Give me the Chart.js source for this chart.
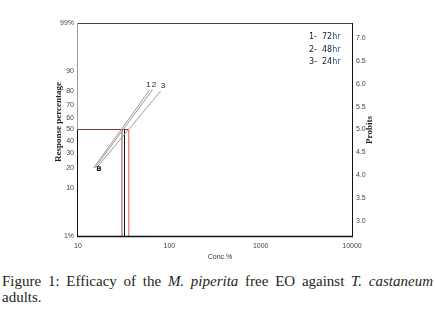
<!DOCTYPE html>
<html>
<head>
<meta charset="utf-8">
<script src="https://cdn.jsdelivr.net/npm/chart.js@4.4.1/dist/chart.umd.min.js"></script>
<style>
  body { margin: 0; background: #fff; width: 435px; height: 323px; overflow: hidden; position: relative; }
  #wrap { position: absolute; left: 0; top: 0; width: 435px; height: 265px; }
  #caption { position: absolute; left: 2px; top: 273px; width: 431px; font-family: "Liberation Serif", serif; font-size: 15px; line-height: 16px; color: #231f20; text-align: justify; }
</style>
</head>
<body>
<div id="wrap"><canvas id="probit_chart" width="435" height="265"></canvas></div>
<div id="caption">Figure 1: Efficacy of the <i>M. piperita</i> free EO against <i>T. castaneum</i> adults.</div>
<script>
// values
const line1Conc = [14.8, 60.7];
const line1Resp = [20.0, 80.5];
const line2Conc = [15.3, 65.5];
const line2Resp = [20.0, 80.8];
const line3Conc = [16.1, 80.2];
const line3Resp = [20.3, 79.9];
const lc50 = [30.3, 32.3, 36.0];
const lineNames = ['1', '2', '3'];

const legendNums = ['1-', '2-', '3-'];
const legendHours = ['72hr', '48hr', '24hr'];

const pctTicks = [1, 10, 20, 30, 40, 50, 60, 70, 80, 90, 99];
const pctLabels = ['1%', '10', '20', '30', '40', '50', '60', '70', '80', '90', '99%'];
const probitTicks = [3.0, 3.5, 4.0, 4.5, 5.0, 5.5, 6.0, 6.5, 7.0];
const concTicks = [10, 100, 1000, 10000];

// inverse normal (Acklam)
function invNorm(p) {
    const a = [-39.69683028665376, 220.9460984245205, -275.9285104469687, 138.3577518672690, -30.66479806614716, 2.506628277459239];
    const b = [-54.47609879822406, 161.5858368580409, -155.6989798598866, 66.80131188771972, -13.28068155288572];
    const c = [-0.007784894002430293, -0.3223964580411365, -2.400758277161838, -2.549732539343734, 4.374664141464968, 2.938163982698783];
    const d = [0.007784695709041462, 0.3224671290700398, 2.445134137142996, 3.754408661907416];
    const pl = 0.02425;
    let q, r;
    if (p < pl) {
        q = Math.sqrt(-2 * Math.log(p));
        return (((((c[0]*q+c[1])*q+c[2])*q+c[3])*q+c[4])*q+c[5]) / ((((d[0]*q+d[1])*q+d[2])*q+d[3])*q+1);
    }
    if (p <= 1 - pl) {
        q = p - 0.5; r = q * q;
        return (((((a[0]*r+a[1])*r+a[2])*r+a[3])*r+a[4])*r+a[5])*q / (((((b[0]*r+b[1])*r+b[2])*r+b[3])*r+b[4])*r+1);
    }
    q = Math.sqrt(-2 * Math.log(1 - p));
    return -(((((c[0]*q+c[1])*q+c[2])*q+c[3])*q+c[4])*q+c[5]) / ((((d[0]*q+d[1])*q+d[2])*q+d[3])*q+1);
}
function probit(pct) { return 5 + invNorm(pct / 100); }

const yMin = probit(1);
const yMax = probit(99);

function pts(xs, ys) { return xs.map((x, i) => ({x: x, y: probit(ys[i])})); }

const lineColor = '#9a9a9a';
const lcColors = ['#9b4b4b', '#111111', '#e05a5a'];

var datasets = [
    {data: pts(line1Conc, line1Resp), borderColor: lineColor, borderWidth: 1, pointRadius: 0, showLine: true},
    {data: pts(line2Conc, line2Resp), borderColor: lineColor, borderWidth: 1, pointRadius: 0, showLine: true},
    {data: pts(line3Conc, line3Resp), borderColor: lineColor, borderWidth: 1, pointRadius: 0, showLine: true},
];
lc50.map((v, i) => {
    datasets.push({data: [{x: v, y: yMin}, {x: v, y: 5}], borderColor: lcColors[i], borderWidth: 1, pointRadius: 0, showLine: true});
});
datasets.push({data: [{x: concTicks[0], y: 5}, {x: Math.max(...lc50), y: 5}], borderColor: '#8b3a3a', borderWidth: 1, pointRadius: 0, showLine: true});

const extras = {
    id: 'extras',
    afterDatasetsDraw(chart) {
        const ctx = chart.ctx;
        const a = chart.chartArea;
        const xs = chart.scales.x, ys = chart.scales.y;
        const y50 = ys.getPixelForValue(5);
        ctx.save();
        ctx.lineWidth = 1;
        const seg = (x1, y1, x2, y2, c) => {
            ctx.strokeStyle = c; ctx.beginPath(); ctx.moveTo(x1, y1); ctx.lineTo(x2, y2); ctx.stroke();
        };
        seg(a.left, a.top + 0.5, a.right, a.top + 0.5, '#444');
        seg(a.right + 0.5, a.top, a.right + 0.5, a.bottom + 1, '#111');
        seg(a.left - 0.5, a.top, a.left - 0.5, y50, '#999');
        seg(a.left - 0.5, y50, a.left - 0.5, a.bottom + 1, '#111');
        ctx.lineWidth = 1.5;
        seg(a.left - 1, a.bottom + 0.5, a.right + 1, a.bottom + 0.5, '#111');

        // line numbers at the upper ends
        ctx.fillStyle = '#222';
        ctx.font = '8px "Liberation Sans"';
        ctx.textAlign = 'center';
        ctx.textBaseline = 'middle';
        const ends = [[line1Conc, line1Resp, -1, -5], [line2Conc, line2Resp, 1.5, -4.5], [line3Conc, line3Resp, 2.5, -5.5]];
        ends.map((e, i) => {
            const px = xs.getPixelForValue(e[0][1]), py = ys.getPixelForValue(probit(e[1][1]));
            ctx.fillText(lineNames[i], px + e[2], py + e[3]);
        });
        // overlapping markers at the low ends
        ctx.font = 'bold 7px "DejaVu Sans"';
        ctx.fillText('B', xs.getPixelForValue(line3Conc[0]) + 2, ys.getPixelForValue(probit(line3Resp[0])) + 2);

        // legend
        ctx.font = '8px "DejaVu Sans"';
        ctx.textAlign = 'left';
        legendNums.map((n, i) => {
            const y = a.top + 14 + i * 12.5;
            ctx.fillStyle = '#222';
            ctx.fillText(n, 309, y);
            ctx.fillText(legendHours[i].slice(0, 2), 322, y);
            ctx.fillStyle = '#1f4e8c';
            ctx.fillText(legendHours[i].slice(2), 322 + ctx.measureText(legendHours[i].slice(0, 2)).width, y);
        });

        // axis titles
        ctx.fillStyle = '#222';
        ctx.textAlign = 'center';
        ctx.font = 'bold 9px "Liberation Serif"';
        ctx.save(); ctx.translate(59, 122); ctx.rotate(-Math.PI / 2); ctx.fillText('Response percentage', 0, 0); ctx.restore();
        ctx.save(); ctx.translate(370, 130); ctx.rotate(-Math.PI / 2); ctx.fillText('Probits', 0, 0); ctx.restore();
        ctx.font = '7px "Liberation Sans"';
        ctx.fillStyle = '#333';
        ctx.fillText('Conc.%', 220, 257);
        ctx.restore();
    }
};

const tickFont = {family: 'Liberation Sans', size: 7};
const noGrid = {display: false, drawTicks: false};

new Chart(document.getElementById('probit_chart').getContext('2d'), {
    type: 'scatter',
    data: {datasets: datasets},
    options: {
        responsive: false,
        animation: false,
        layout: {padding: {top: 23, left: 0, right: 0, bottom: 0}},
        plugins: {legend: {display: false}, tooltip: {enabled: false}},
        scales: {
            x: {
                type: 'logarithmic', min: 10, max: 10000,
                grid: noGrid, border: {display: false},
                afterBuildTicks: (s) => { s.ticks = concTicks.map(v => ({value: v})); },
                afterFit: (s) => { s.height = 29; },
                ticks: {font: tickFont, color: '#444', padding: 6, maxRotation: 0, autoSkip: false, callback: (v) => String(v)}
            },
            y: {
                position: 'left', min: yMin, max: yMax,
                grid: noGrid, border: {display: false},
                afterBuildTicks: (s) => { s.ticks = pctTicks.map(p => ({value: probit(p)})); },
                afterFit: (s) => { s.width = 78; },
                ticks: {font: tickFont, color: '#444', padding: 4, autoSkip: false,
                    callback: (v, i) => pctLabels[i]}
            },
            y2: {
                position: 'right', min: yMin, max: yMax,
                grid: noGrid, border: {display: false},
                afterBuildTicks: (s) => { s.ticks = probitTicks.map(v => ({value: v})); },
                afterFit: (s) => { s.width = 83; },
                ticks: {font: tickFont, color: '#444', padding: 4, autoSkip: false, callback: (v) => v.toFixed(1)}
            }
        }
    },
    plugins: [extras]
});
</script>
</body>
</html>
